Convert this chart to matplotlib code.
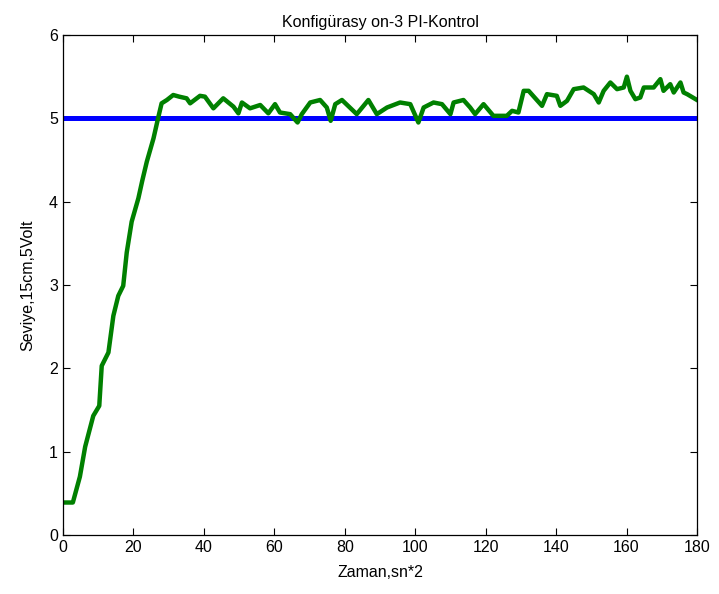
import matplotlib
matplotlib.use("Agg")
import matplotlib.pyplot as plt

# level response (green)
t = [0, 2.8, 4.8, 6.3, 8.6, 10.3, 11.0, 12.9, 14.3, 15.7, 17.1, 18.1, 19.5,
     21.4, 22.5, 23.8, 25.7, 27.1, 28.0, 29.5, 31.3, 33.0, 35.1, 36.1, 38.9,
     40.3, 42.7, 45.5, 48.4, 49.8, 50.8, 53.1, 56.0, 58.3, 60.2, 61.6, 64.5,
     66.6, 67.8, 70.2, 73.0, 74.9, 76.0, 77.3, 79.2, 83.4, 86.7, 89.1, 92.0,
     95.7, 98.6, 100.9, 102.4, 105.2, 107.6, 110.0, 110.9, 113.7, 115.6,
     117.0, 119.4, 122.2, 126.0, 127.5, 129.3, 130.8, 132.2, 136.0, 137.4,
     140.2, 141.2, 143.1, 145.0, 147.8, 150.7, 152.1, 153.5, 155.4, 157.3,
     159.2, 160.1, 161.1, 162.5, 163.9, 164.9, 167.7, 169.6, 170.5, 172.4,
     173.4, 175.3, 176.2, 177.2, 180.0]
level = [0.39, 0.39, 0.70, 1.06, 1.43, 1.55, 2.03, 2.19, 2.63, 2.87, 2.99,
         3.39, 3.76, 4.04, 4.25, 4.48, 4.76, 5.02, 5.18, 5.22, 5.28, 5.26,
         5.24, 5.18, 5.27, 5.26, 5.12, 5.24, 5.14, 5.06, 5.19, 5.12, 5.16,
         5.06, 5.17, 5.07, 5.05, 4.95, 5.05, 5.19, 5.22, 5.13, 4.97, 5.17,
         5.22, 5.05, 5.22, 5.05, 5.13, 5.19, 5.17, 4.95, 5.13, 5.19, 5.17,
         5.05, 5.19, 5.22, 5.13, 5.05, 5.17, 5.03, 5.03, 5.09, 5.07, 5.33,
         5.33, 5.15, 5.29, 5.27, 5.15, 5.21, 5.35, 5.37, 5.29, 5.19, 5.33,
         5.43, 5.35, 5.37, 5.50, 5.33, 5.23, 5.25, 5.37, 5.37, 5.47, 5.33,
         5.41, 5.31, 5.43, 5.31, 5.29, 5.22]

setpoint_t = [0, 180]
setpoint = [5, 5]

plt.rcParams["font.family"] = ["Liberation Sans Narrow", "Liberation Sans", "DejaVu Sans"]

fig = plt.figure(figsize=(7.19, 5.94), dpi=100)
ax = fig.add_axes([0.0876, 0.0993, 0.8818, 0.8418])

ax.plot(setpoint_t, setpoint, color="#0000ff", linewidth=3.6)
ax.plot(t, level, color="#008000", linewidth=3.2, solid_joinstyle="round")

ax.set_xlim(0, 180)
ax.set_ylim(0, 6)
ax.set_xticks(range(0, 181, 20))
ax.set_yticks(range(0, 7))
ax.tick_params(direction="in", top=True, right=True, labelsize=11.5, length=5)
for s in ax.spines.values():
    s.set_linewidth(0.9)

ax.set_title("Konfigürasy on-3 PI-Kontrol", fontsize=11.5)
ax.set_xlabel("Zaman,sn*2", fontsize=11.5, labelpad=7)
ax.set_ylabel("Seviye,15cm,5Volt", fontsize=11.5, labelpad=10)

fig.savefig("out.png", dpi=100)
